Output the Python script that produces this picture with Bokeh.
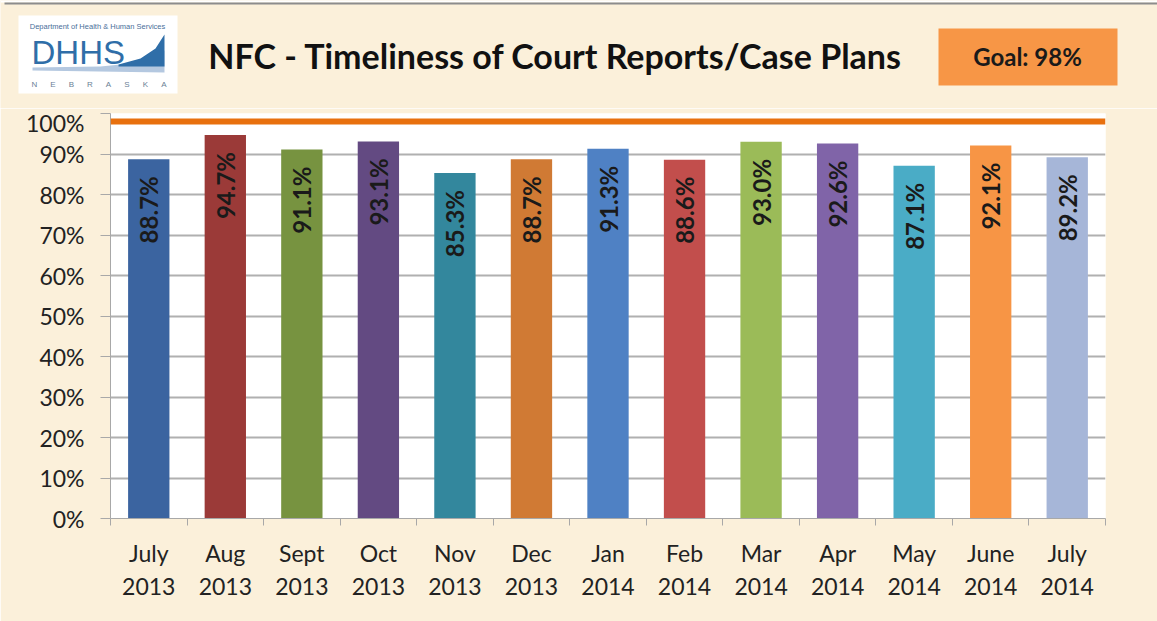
from bokeh.plotting import figure
from bokeh.layouts import column
from bokeh.models import (FixedTicker, NumeralTickFormatter, Span, ColumnDataSource, Range1d)
from bokeh.core.properties import value
from bokeh.embed import file_html
from bokeh.resources import INLINE

months = ["July\n2013", "Aug\n2013", "Sept\n2013", "Oct\n2013", "Nov\n2013", "Dec\n2013",
          "Jan\n2014", "Feb\n2014", "Mar\n2014", "Apr\n2014", "May\n2014", "June\n2014",
          "July\n2014"]
timeliness = [0.887, 0.947, 0.911, 0.931, 0.853, 0.887, 0.913, 0.886, 0.930, 0.926,
              0.871, 0.921, 0.892]
bar_colors = ["#3B64A0", "#9B3A38", "#779340", "#634A82", "#33879D", "#D07A34",
              "#4F81C4", "#C24E4C", "#9BBB58", "#8064A8", "#4AACC6", "#F79545",
              "#A6B6D8"]
goal = 0.98
y_ticks = [i / 10 for i in range(11)]
title_text = "NFC - Timeliness of Court Reports/Case Plans"
state_letters = list("NEBRASKA")

n = len(months)
centers = [i + 0.5 for i in range(n)]
boundaries = list(range(n + 1))
labels = ["{:.1%}".format(v) for v in timeliness]

FONT = "Lato"
BG = "#FBF0DA"
W = 1157
HEAD_H = 108

# ---------------- header (logo, title, goal box) ----------------
h = figure(width=W, height=HEAD_H, output_backend="svg", toolbar_location=None,
           x_range=Range1d(0, W), y_range=Range1d(HEAD_H, 0),
           x_axis_type=None, y_axis_type=None, min_border=0)
h.frame_align = False
h.background_fill_color = BG
h.border_fill_color = BG
h.outline_line_color = None
h.xgrid.visible = False
h.ygrid.visible = False

# top frame edge of the slide
h.quad(left=[0], right=[W], top=[0], bottom=[2], color="white", line_color=None)
h.segment(x0=[4], y0=[3], x1=[W], y1=[3], line_color="#8C8C8C", line_width=2)

# logo
h.quad(left=[18], right=[177], top=[15], bottom=[93], color="white", line_color=None)
h.text(x=[97], y=[26], text=["Department of Health & Human Services"],
       text_align="center", text_baseline="middle",
       text_font=value("Liberation Sans"), text_font_size="7.5px", text_color="#4A6F9A")
h.patch(x=[32, 100, 140, 164, 164, 32], y=[67, 66, 62, 50, 72, 70],
        color="#B4C8E0", line_color=None)
h.text(x=[31], y=[52], text=["DHHS"], text_align="left", text_baseline="middle",
       text_font=value("Liberation Sans"), text_font_size="33px", text_color="#2F6EA8")
h.patch(x=[118, 140, 155, 164, 164, 118], y=[64, 58, 48, 34, 66, 66],
        color="#2F6EA8", line_color=None)
h.text(x=[34 + 18.5 * i for i in range(len(state_letters))], y=[84] * len(state_letters),
       text=state_letters, text_align="center", text_baseline="middle",
       text_font=value("Liberation Sans"), text_font_size="8px", text_color="#6A7F95")

# title
h.text(x=[555], y=[55], text=[title_text], text_align="center", text_baseline="middle",
       text_font=value(FONT), text_font_style="bold", text_font_size="34px",
       text_color="#111111")

# goal box
h.quad(left=[938], right=[1117], top=[28], bottom=[85], color="#F79646", line_color=None)
h.text(x=[1027], y=[56], text=["Goal: " + "{:.0%}".format(goal)],
       text_align="center", text_baseline="middle",
       text_font=value(FONT), text_font_style="bold", text_font_size="24px",
       text_color="#1A1A1A")

# ---------------- main chart ----------------
src = ColumnDataSource(dict(x=centers, top=timeliness, color=bar_colors, label=labels))

p = figure(width=W, height=621 - HEAD_H, output_backend="svg", toolbar_location=None,
           x_range=Range1d(0, n), y_range=Range1d(0, 1),
           min_border_left=110, min_border_right=52, min_border_top=5,
           min_border_bottom=103)
p.frame_align = False
p.border_fill_color = BG
p.background_fill_color = "white"
p.outline_line_color = None

p.vbar(x="x", top="top", width=0.54, bottom=0, color="color", line_color=None, source=src)
p.text(x="x", y="top", text="label", angle=1.5708, source=src,
       text_align="right", text_baseline="middle", y_offset=17,
       text_font=value(FONT), text_font_style="bold", text_font_size="24px",
       text_color="#1A1A1A")

p.add_layout(Span(location=goal, dimension="width", line_color="#E8700E", line_width=6))

# y axis
p.yaxis.ticker = FixedTicker(ticks=y_ticks)
p.yaxis.formatter = NumeralTickFormatter(format="0%")
p.yaxis.major_label_text_font = FONT
p.yaxis.major_label_text_font_size = "23px"
p.yaxis.major_label_text_color = "#222222"
p.yaxis.major_tick_out = 10
p.yaxis.major_tick_in = 0
p.yaxis.minor_tick_line_color = None
p.yaxis.major_tick_line_color = "#A8A8A8"
p.yaxis.axis_line_color = "#A8A8A8"
p.yaxis.major_label_standoff = 16

# x axis
p.xaxis.ticker = FixedTicker(ticks=centers, minor_ticks=boundaries)
p.xaxis.major_label_overrides = {c: m for c, m in zip(centers, months)}
p.xaxis.major_label_text_font = FONT
p.xaxis.major_label_text_font_size = "23px"
p.xaxis.major_label_text_color = "#222222"
p.xaxis.major_tick_out = 0
p.xaxis.major_tick_in = 0
p.xaxis.minor_tick_out = 7
p.xaxis.minor_tick_in = 0
p.xaxis.minor_tick_line_color = "#A8A8A8"
p.xaxis.axis_line_color = "#A8A8A8"
p.xaxis.major_label_standoff = 13

p.xgrid.grid_line_color = None
p.ygrid.ticker = FixedTicker(ticks=y_ticks)
p.ygrid.grid_line_color = "#B0B0B0"
p.ygrid.grid_line_width = 2

layout = column(h, p, spacing=0)
open("out.html", "w").write(file_html(layout, INLINE))
